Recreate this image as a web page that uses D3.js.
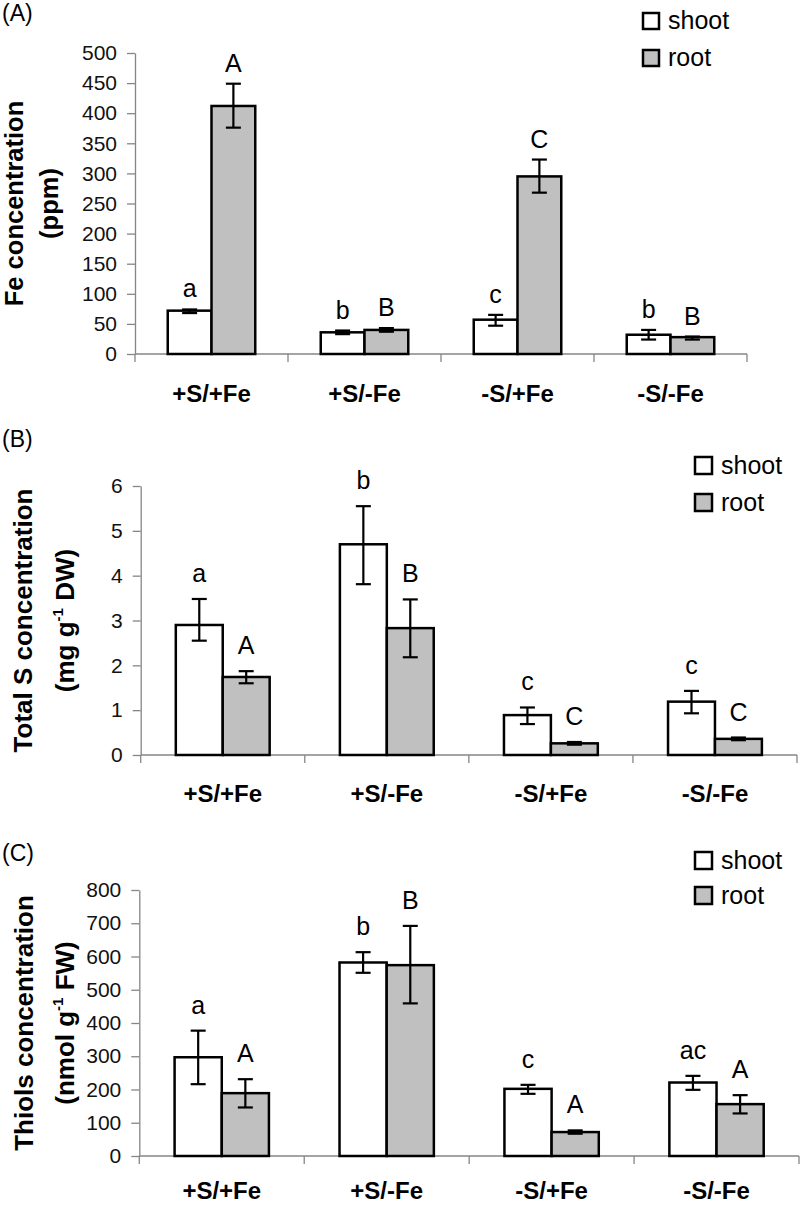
<!DOCTYPE html>
<html>
<head>
<meta charset="utf-8">
<script src="https://cdn.jsdelivr.net/npm/d3@7"></script>
<style>
  html, body { margin: 0; padding: 0; background: #fff; }
  svg { display: block; font-family: "Liberation Sans", Arial, Helvetica, sans-serif; }
</style>
</head>
<body>
<svg id="chart" width="800" height="1205"></svg>
<script>
// ---------- DATA ----------
const categories = ["+S/+Fe", "+S/-Fe", "-S/+Fe", "-S/-Fe"];
const seriesNames = ["shoot", "root"];

// (A) Fe concentration (ppm)
const feTicks = [0, 50, 100, 150, 200, 250, 300, 350, 400, 450, 500];
const feShoot = [72, 36, 57, 32];
const feShootLo = [68, 33, 47, 24];
const feShootHi = [74, 39, 65, 40];
const feRoot = [412, 40, 295, 28];
const feRootLo = [376, 37, 268, 24];
const feRootHi = [449, 43, 323, 29];
const feShootLetters = ["a", "b", "c", "b"];
const feRootLetters = ["A", "B", "C", "B"];

// (B) Total S concentration (mg g-1 DW)
const sTicks = [0, 1, 2, 3, 4, 5, 6];
const sShoot = [2.90, 4.70, 0.89, 1.19];
const sShootLo = [2.55, 3.81, 0.69, 0.93];
const sShootHi = [3.48, 5.55, 1.06, 1.43];
const sRoot = [1.74, 2.83, 0.26, 0.36];
const sRootLo = [1.60, 2.18, 0.23, 0.33];
const sRootHi = [1.87, 3.47, 0.29, 0.39];
const sShootLetters = ["a", "b", "c", "c"];
const sRootLetters = ["A", "B", "C", "C"];

// (C) Thiols concentration (nmol g-1 FW)
const thTicks = [0, 100, 200, 300, 400, 500, 600, 700, 800];
const thShoot = [297, 582, 202, 221];
const thShootLo = [216, 551, 187, 199];
const thShootHi = [377, 613, 214, 241];
const thRoot = [189, 574, 72, 156];
const thRootLo = [146, 459, 67, 128];
const thRootHi = [231, 692, 77, 183];
const thShootLetters = ["a", "b", "c", "ac"];
const thRootLetters = ["A", "B", "A", "A"];

// ---------- LAYOUT ----------
const panels = [
  {
    tag: "(A)", tagY: 21,
    ticks: feTicks,
    shoot: feShoot, shootLo: feShootLo, shootHi: feShootHi,
    root: feRoot, rootLo: feRootLo, rootHi: feRootHi,
    shootLetters: feShootLetters, rootLetters: feRootLetters,
    x0: 135, x1: 747, yBottom: 354, yTop: 53,
    title1: [{t: "Fe concentration"}], title2: [{t: "(ppm)"}],
    titleX1: 22.5, titleX2: 57.5, titleSize: 25.5,
    legendX: 643, legendY: 13, legendSize: 16, legendGap: 37,
    letterGap: 12, catY: 402
  },
  {
    tag: "(B)", tagY: 447,
    ticks: sTicks,
    shoot: sShoot, shootLo: sShootLo, shootHi: sShootHi,
    root: sRoot, rootLo: sRootLo, rootHi: sRootHi,
    shootLetters: sShootLetters, rootLetters: sRootLetters,
    x0: 140.7, x1: 797, yBottom: 755, yTop: 486,
    title1: [{t: "Total S concentration"}],
    title2: [{t: "(mg g"}, {t: "-1", sup: true}, {t: " DW)"}],
    titleX1: 31.5, titleX2: 74, titleSize: 26,
    legendX: 695, legendY: 457, legendSize: 17, legendGap: 37,
    letterGap: 17, catY: 802
  },
  {
    tag: "(C)", tagY: 861,
    ticks: thTicks,
    shoot: thShoot, shootLo: thShootLo, shootHi: thShootHi,
    root: thRoot, rootLo: thRootLo, rootHi: thRootHi,
    shootLetters: thShootLetters, rootLetters: thRootLetters,
    x0: 139.3, x1: 799, yBottom: 1156, yTop: 890,
    title1: [{t: "Thiols concentration"}],
    title2: [{t: "(nmol g"}, {t: "-1", sup: true}, {t: " FW)"}],
    titleX1: 33, titleX2: 74, titleSize: 26,
    legendX: 695, legendY: 852, legendSize: 17, legendGap: 35,
    letterGap: 17, catY: 1199
  }
];

const fills = {shoot: "#ffffff", root: "#c0c0c0"};
const axisColor = "#868686";

const svg = d3.select("#chart");

panels.forEach(p => {
  const g = svg.append("g");
  const yMax = p.ticks[p.ticks.length - 1];
  const y = d3.scaleLinear().domain([0, yMax]).range([p.yBottom, p.yTop]);
  const pad = 0.428;
  const x = d3.scaleBand().domain(categories).range([p.x0, p.x1])
    .paddingInner(pad).paddingOuter(pad / 2);
  const xs = d3.scaleBand().domain(seriesNames).range([0, x.bandwidth()]).padding(0);

  // panel tag
  g.append("text").attr("x", 2).attr("y", p.tagY)
    .attr("font-size", 23).attr("fill", "#000").text(p.tag);

  // y axis
  const yAxis = d3.axisLeft(y).tickValues(p.ticks).tickSizeInner(8).tickSizeOuter(0)
    .tickPadding(10).tickFormat(d3.format("d"));
  const ya = g.append("g").attr("transform", `translate(${p.x0},0)`).call(yAxis);
  ya.select(".domain").attr("stroke", axisColor).attr("stroke-width", 1.3);
  ya.selectAll(".tick line").attr("stroke", axisColor).attr("stroke-width", 1.3);
  ya.selectAll(".tick text").attr("font-size", 21).attr("fill", "#111")
    .attr("font-family", "Liberation Sans, Arial, sans-serif");

  // x axis line + category boundary ticks
  g.append("line").attr("x1", p.x0).attr("x2", p.x1)
    .attr("y1", y(0)).attr("y2", y(0))
    .attr("stroke", axisColor).attr("stroke-width", 1.3);
  const bounds = d3.range(categories.length + 1).map(i => x.range()[0] + i * x.step());
  g.selectAll(".xtick").data(bounds).join("line")
    .attr("x1", d => d).attr("x2", d => d)
    .attr("y1", y(0)).attr("y2", y(0) + 8)
    .attr("stroke", axisColor).attr("stroke-width", 1.3);

  // category labels
  g.selectAll(".cat").data(categories).join("text")
    .attr("x", d => x(d) + x.bandwidth() / 2)
    .attr("y", p.catY)
    .attr("text-anchor", "middle").attr("font-size", 24).attr("font-weight", "bold")
    .attr("fill", "#000").text(d => d);

  // bars
  const rows = [];
  categories.forEach((c, i) => {
    rows.push({cat: c, s: "shoot", v: p.shoot[i], lo: p.shootLo[i], hi: p.shootHi[i], lab: p.shootLetters[i]});
    rows.push({cat: c, s: "root", v: p.root[i], lo: p.rootLo[i], hi: p.rootHi[i], lab: p.rootLetters[i]});
  });
  g.selectAll(".bar").data(rows).join("rect")
    .attr("x", d => x(d.cat) + xs(d.s))
    .attr("y", d => y(d.v))
    .attr("width", xs.bandwidth())
    .attr("height", d => y(0) - y(d.v))
    .attr("fill", d => fills[d.s])
    .attr("stroke", "#000").attr("stroke-width", 2.5);

  // error bars
  const cx = d => x(d.cat) + xs(d.s) + xs.bandwidth() / 2;
  const cap = 7.5;
  const eb = g.selectAll(".err").data(rows).join("g").attr("stroke", "#000").attr("stroke-width", 2.2);
  eb.append("line").attr("x1", cx).attr("x2", cx).attr("y1", d => y(d.lo)).attr("y2", d => y(d.hi));
  eb.append("line").attr("x1", d => cx(d) - cap).attr("x2", d => cx(d) + cap).attr("y1", d => y(d.lo)).attr("y2", d => y(d.lo));
  eb.append("line").attr("x1", d => cx(d) - cap).attr("x2", d => cx(d) + cap).attr("y1", d => y(d.hi)).attr("y2", d => y(d.hi));

  // significance letters
  g.selectAll(".letter").data(rows).join("text")
    .attr("x", cx)
    .attr("y", d => y(Math.max(d.hi, d.v)) - p.letterGap)
    .attr("text-anchor", "middle").attr("font-size", 25).attr("fill", "#000")
    .text(d => d.lab);

  // y titles (rotated)
  const cy = (p.yBottom + p.yTop) / 2;
  [[p.title1, p.titleX1], [p.title2, p.titleX2]].forEach(([parts, tx]) => {
    const t = g.append("text")
      .attr("transform", `translate(${tx},${cy}) rotate(-90)`)
      .attr("text-anchor", "middle").attr("font-size", p.titleSize).attr("font-weight", "bold")
      .attr("fill", "#000");
    parts.forEach(pt => {
      const ts = t.append("tspan").text(pt.t);
      if (pt.sup) ts.attr("font-size", 15).attr("dy", -11);
      else if (t.selectAll("tspan").size() > 1) ts.attr("dy", 11);
    });
  });

  // legend
  seriesNames.forEach((s, i) => {
    const ly = p.legendY + i * p.legendGap;
    g.append("rect").attr("x", p.legendX).attr("y", ly)
      .attr("width", p.legendSize).attr("height", p.legendSize)
      .attr("fill", fills[s]).attr("stroke", "#000").attr("stroke-width", 2.5);
    g.append("text").attr("x", p.legendX + p.legendSize + 9).attr("y", ly + p.legendSize)
      .attr("font-size", 25).attr("fill", "#000").text(s);
  });
});
</script>
</body>
</html>
